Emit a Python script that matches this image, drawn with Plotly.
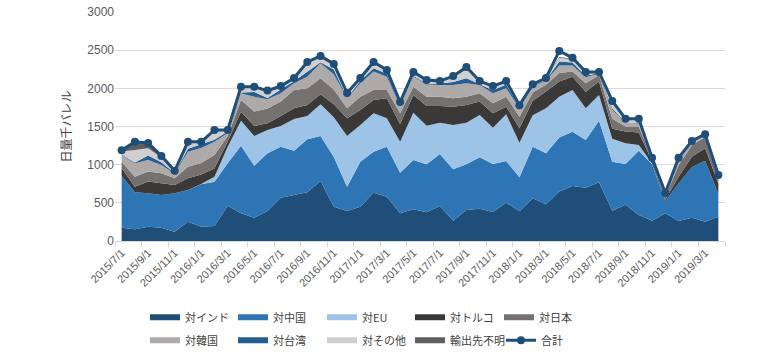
import plotly.graph_objects as go

months = [f"{2015 + (6 + k) // 12}/{(6 + k) % 12 + 1}/1" for k in range(46)]

india = [175,153,187,175,122,253,187,197,462,363,305,393,567,603,638,786,450,393,450,633,580,363,415,376,459,266,406,423,380,502,389,559,480,650,720,698,769,397,476,341,266,363,262,305,253,318]
china = [681,485,438,428,503,415,556,580,556,886,681,756,669,580,694,590,650,318,589,537,656,532,646,628,681,673,598,673,629,546,445,677,669,705,712,625,807,642,533,842,738,157,494,660,799,297]
eu = [0,0,0,0,0,0,5,65,218,327,390,305,271,415,306,415,520,665,481,503,371,406,620,507,410,581,546,555,476,612,454,410,589,535,546,415,337,301,271,75,10,0,0,0,0,0]
turkey = [96,74,153,153,109,153,122,109,66,118,131,87,131,140,144,131,170,231,196,175,262,231,231,258,218,240,231,175,188,100,188,190,220,200,175,218,175,130,153,162,30,20,87,140,162,135]
japan = [87,131,131,131,87,153,153,175,74,153,188,196,188,240,218,210,196,131,175,131,109,140,109,122,122,109,109,109,131,131,153,110,90,110,66,109,87,130,66,80,20,40,150,150,150,90]
korea = [85,175,152,110,60,196,196,175,40,88,196,120,109,90,152,195,200,131,175,240,174,100,130,160,154,175,176,110,130,110,110,80,50,100,80,80,20,120,50,40,10,20,60,30,20,10]
taiwan = [10,10,60,35,5,40,50,25,20,10,60,15,50,25,65,15,60,10,30,45,40,5,15,10,20,40,65,10,40,50,5,10,10,50,40,20,5,20,5,5,0,0,0,0,0,0]
others = [40,164,93,63,30,80,25,114,15,65,60,88,35,35,110,70,60,50,30,65,40,38,40,40,25,60,120,35,50,35,30,15,22,50,40,40,12,80,40,50,10,25,30,20,12,10]
unknown = [16,108,71,20,4,10,6,15,4,10,9,10,10,7,18,13,14,11,9,16,8,5,9,9,6,16,29,5,6,9,6,4,5,10,10,10,3,15,6,5,6,5,7,5,4,5]
total = [1190,1300,1285,1115,920,1300,1300,1455,1455,2020,2020,1970,2030,2135,2345,2425,2320,1940,2135,2345,2240,1820,2215,2110,2095,2160,2280,2095,2030,2095,1780,2055,2135,2490,2400,2215,2215,1835,1600,1600,1090,630,1090,1310,1400,865]

series = [
    ("対インド", india, "#1F4E79"),
    ("対中国", china, "#2E75B6"),
    ("対EU", eu, "#9DC3E6"),
    ("対トルコ", turkey, "#3B3838"),
    ("対日本", japan, "#767171"),
    ("対韓国", korea, "#AEAAAA"),
    ("対台湾", taiwan, "#255E91"),
    ("対その他", others, "#D0CECE"),
    ("輸出先不明", unknown, "#5F5F5F"),
]

legend_ids = ["legend"] + [f"legend{k}" for k in range(2, 11)]

fig = go.Figure()
for idx, (name, vals, col) in enumerate(series):
    fig.add_trace(go.Scatter(
        x=months, y=vals, name=name, stackgroup="one", mode="none",
        fillcolor=col, line=dict(width=0, color=col), legend=legend_ids[idx],
    ))
fig.add_trace(go.Scatter(
    x=months, y=total, name="合計", mode="lines+markers",
    line=dict(color="#1F4E79", width=3),
    marker=dict(color="#1F4E79", size=8), legend=legend_ids[9],
))

font_main = "Liberation Sans, Arial, Noto Sans CJK JP, sans-serif"
text_px = [[184, 272, 361, 449, 538], [184, 272, 361, 449, 540]]
row_y = [-0.27, -0.37]
legend_layout = {}
for k, lid in enumerate(legend_ids):
    r, c = divmod(k, 5)
    legend_layout[lid] = dict(
        orientation="h", xanchor="left", yanchor="top",
        x=(text_px[r][c] - 39 - 115) / 610, y=row_y[r],
        font=dict(family="Noto Sans CJK JP, sans-serif", size=11, color="#404040"),
        itemclick=False, itemdoubleclick=False, bgcolor="rgba(0,0,0,0)",
    )

fig.update_layout(
    width=780, height=352,
    margin=dict(l=115, r=55, t=12, b=111, autoexpand=False),
    paper_bgcolor="white", plot_bgcolor="white",
    font=dict(family=font_main, size=12, color="#595959"),
    showlegend=True,
    **legend_layout,
)
fig.update_xaxes(
    type="category", categoryorder="array", categoryarray=months,
    range=[-0.5, 45.5], tickson="boundaries", tickmode="linear", tick0=0, dtick=2,
    tickangle=-45, ticks="outside", ticklen=5, tickcolor="#D9D9D9",
    showline=True, linecolor="#D9D9D9", linewidth=1, showgrid=False,
    tickfont=dict(size=11, color="#595959"), automargin=False,
)
fig.update_yaxes(
    range=[0, 3000], dtick=500, showgrid=True, gridcolor="#D9D9D9", gridwidth=1,
    zeroline=False, showline=False, ticks="", tickfont=dict(size=12, color="#595959"),
    title=dict(text="日量千バレル", font=dict(family="Noto Sans CJK JP, sans-serif", size=12, color="#404040"), standoff=13),
    automargin=False,
)

fig.write_html("out.html")
